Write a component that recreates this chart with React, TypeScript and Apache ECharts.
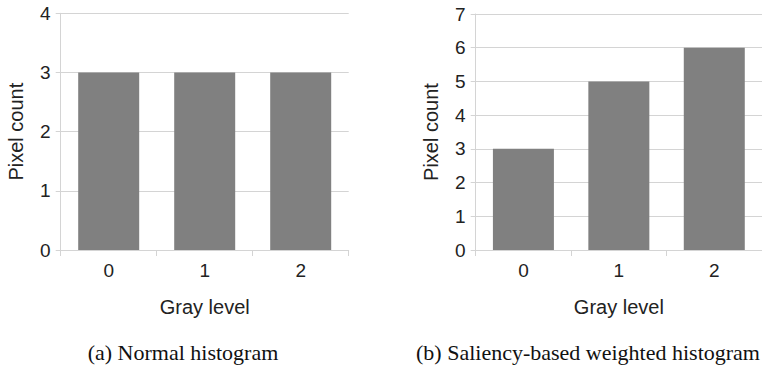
import React, { useEffect, useRef } from "react";
import * as echarts from "echarts";

const categories = ["0", "1", "2"];
const normalCounts = [3, 3, 3];
const weightedCounts = [3, 5, 6];
const captions = ["(a) Normal histogram", "(b) Saliency-based weighted histogram"];
const xTitle = "Gray level";
const yTitle = "Pixel count";

const SANS = "'Liberation Sans', Arial, sans-serif";
const SERIF = "'Liberation Serif', 'Times New Roman', serif";
const FS = 19;
const TITLE_FS = 20;
const GRID_COLOR = "#d4d4d4";

export default function App() {
  const ref = useRef<HTMLDivElement>(null);
  useEffect(() => {
    if (!ref.current) return;
    const chart = echarts.init(ref.current, null, { renderer: "svg" });
    const makeX = (gridIndex: number) => ({
      type: "category",
      gridIndex,
      data: categories,
      boundaryGap: true,
      axisLine: { show: true, lineStyle: { color: GRID_COLOR, width: 1 } },
      axisTick: { show: true, length: 6, lineStyle: { color: GRID_COLOR } },
      axisLabel: { color: "#222", fontFamily: SANS, fontSize: FS, margin: 11 },
      name: xTitle,
      nameLocation: "middle",
      nameGap: 47,
      nameTextStyle: { color: "#222", fontFamily: SANS, fontSize: TITLE_FS },
    });
    const makeY = (gridIndex: number, max: number) => ({
      type: "value",
      gridIndex,
      min: 0,
      max,
      interval: 1,
      axisLine: { show: true, lineStyle: { color: GRID_COLOR, width: 1 } },
      axisTick: { show: true, length: 5, lineStyle: { color: GRID_COLOR } },
      splitLine: { show: true, lineStyle: { color: GRID_COLOR, width: 1 } },
      axisLabel: { color: "#222", fontFamily: SANS, fontSize: FS, margin: 10 },
      name: yTitle,
      nameLocation: "middle",
      nameGap: 35,
      nameTextStyle: { color: "#222", fontFamily: SANS, fontSize: TITLE_FS },
    });
    chart.setOption({
      animation: false,
      backgroundColor: "#ffffff",
      grid: [
        { left: 60.7, top: 13.3, width: 288, height: 236.7 },
        { left: 475.7, top: 14, width: 287.5, height: 236 },
      ],
      xAxis: [makeX(0), makeX(1)],
      yAxis: [makeY(0, 4), makeY(1, 7)],
      series: [
        {
          type: "bar",
          xAxisIndex: 0,
          yAxisIndex: 0,
          data: normalCounts,
          barWidth: 61,
          itemStyle: { color: "#808080" },
        },
        {
          type: "bar",
          xAxisIndex: 1,
          yAxisIndex: 1,
          data: weightedCounts,
          barWidth: 61,
          itemStyle: { color: "#808080" },
        },
      ],
      graphic: [
        {
          type: "text",
          x: 183,
          y: 352,
          style: {
            text: captions[0],
            fill: "#111",
            font: `22px ${SERIF}`,
            textAlign: "center",
            textVerticalAlign: "middle",
          },
        },
        {
          type: "text",
          x: 588,
          y: 352,
          style: {
            text: captions[1],
            fill: "#111",
            font: `22px ${SERIF}`,
            textAlign: "center",
            textVerticalAlign: "middle",
          },
        },
      ],
    });
    return () => chart.dispose();
  }, []);
  return (
    <div
      ref={ref}
      style={{ position: "fixed", left: 0, top: 0, width: 762, height: 365 }}
    />
  );
}
